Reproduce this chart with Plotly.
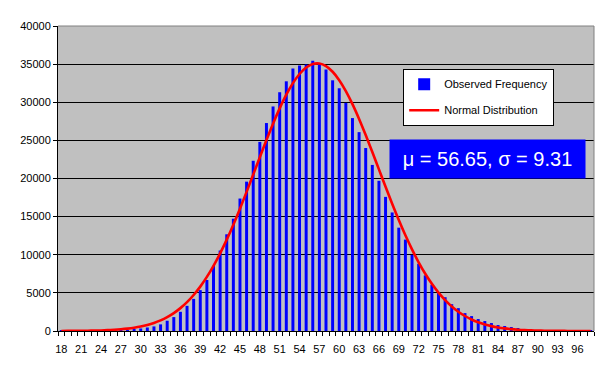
import plotly.graph_objects as go

categories = list(range(18, 99))

observed = [2, 3, 5, 8, 12, 18, 28, 40, 58, 85,
            130, 217, 330, 460, 600, 870, 1346, 1824, 2519, 3300,
            4213, 5360, 6690, 8556, 10554, 12682, 14723, 17372, 19587, 22323,
            24799, 27274, 29446, 31314, 32747, 34441, 34832, 34962, 35440, 35050,
            34310, 32877, 31835, 29920, 27925, 26080, 24000, 21780, 19700, 17590,
            15548, 13550, 11987, 9989, 8817, 7296, 6081, 4995, 4430, 3518,
            2997, 2345, 1954, 1564, 1303, 1042, 782, 651, 521, 391,
            200, 120, 70, 40, 25, 15, 10, 5, 3, 2, 1]

normal = [6, 10, 15, 23, 35, 51, 75, 109, 156, 220,
          309, 427, 584, 789, 1055, 1394, 1820, 2349, 2999, 3784,
          4721, 5820, 7094, 8543, 10179, 11980, 13945, 16044, 18248, 20512,
          22797, 25044, 27195, 29196, 30986, 32503, 33707, 34552, 35015, 35075,
          34733, 34000, 32900, 31470, 29757, 27815, 25702, 23478, 21198, 18920,
          16694, 14561, 12555, 10700, 9015, 7509, 6182, 5031, 4048, 3219,
          2531, 1967, 1511, 1147, 862, 640, 469, 340, 244, 173,
          121, 84, 57, 39, 26, 17, 11, 7, 5, 3, 2]

x_tick_labels = list(range(18, 97, 3))
y_ticks = list(range(0, 40001, 5000))
stats_text = "\u03bc = 56.65, \u03c3 = 9.31"

FONT = "Arial, 'Liberation Sans', sans-serif"

fig = go.Figure()
fig.add_trace(go.Bar(
    x=categories, y=observed, name="Observed Frequency",
    marker=dict(color="#0000FF", line=dict(width=0)),
    legendgroup="a",
))
fig.add_trace(go.Scatter(
    x=categories, y=normal, name="Normal Distribution", mode="lines",
    line=dict(color="#FF0000", width=2.6, shape="spline"),
    legendgroup="b",
))

# the page body has an 8px margin, so the figure is sized/offset to compensate
fig.update_layout(
    width=601, height=365,
    margin=dict(l=47, r=15, t=16, b=42),
    paper_bgcolor="white",
    plot_bgcolor="#C0C0C0",
    bargap=0.55,
    font=dict(family=FONT, size=11, color="black"),
    showlegend=True,
    legend=dict(
        x=0.644, y=0.86, xanchor="left", yanchor="top",
        bgcolor="white", bordercolor="black", borderwidth=1,
        font=dict(family=FONT, size=11, color="black"),
        traceorder="grouped", tracegroupgap=7,
        itemwidth=30,
    ),
    xaxis=dict(
        range=[17.5, 98.5],
        tickmode="array", tickvals=x_tick_labels,
        ticktext=[str(v) for v in x_tick_labels],
        ticks="outside", ticklen=8, tickcolor="rgba(0,0,0,0)",
        showgrid=False, zeroline=False,
        showline=True, linecolor="black", linewidth=1,
        minor=dict(ticks="outside", tick0=17.5, dtick=1, ticklen=4,
                   tickcolor="black", showgrid=False),
        tickfont=dict(family=FONT, size=11, color="black"),
    ),
    yaxis=dict(
        range=[0, 40000],
        tickmode="array", tickvals=y_ticks,
        tickformat="d",
        ticks="outside", ticklen=4, tickcolor="black",
        showgrid=True, gridcolor="black", gridwidth=1,
        zeroline=False,
        showline=True, linecolor="black", linewidth=1,
        tickfont=dict(family=FONT, size=11, color="black"),
    ),
)

# plot-area border on top and right (gray)
fig.add_shape(type="line", xref="paper", yref="paper", x0=0, x1=1, y0=1, y1=1,
              line=dict(color="#808080", width=1))
fig.add_shape(type="line", xref="paper", yref="paper", x0=1, x1=1, y0=0, y1=1,
              line=dict(color="#808080", width=1))

fig.add_annotation(
    xref="paper", yref="paper", x=0.8006, y=0.5635,
    xanchor="center", yanchor="middle",
    text=stats_text, showarrow=False,
    width=195, height=38, borderpad=0,
    bgcolor="#0000FF",
    font=dict(family=FONT, size=20, color="white"),
)

fig.write_html("out.html")
